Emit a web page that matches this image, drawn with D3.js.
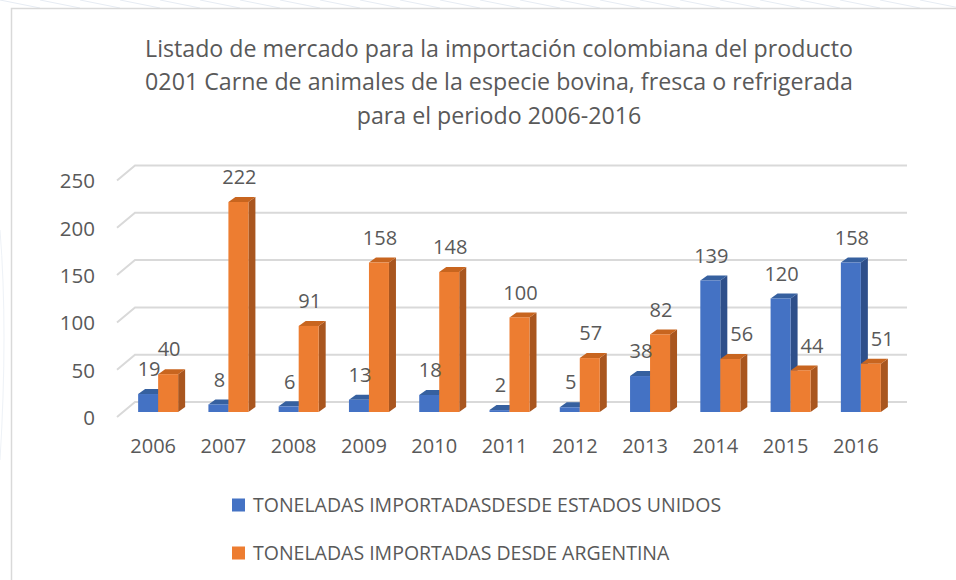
<!DOCTYPE html>
<html><head><meta charset="utf-8">
<script src="https://cdn.jsdelivr.net/npm/d3@7"></script>
<style>
html,body{margin:0;padding:0;background:#fff;}
svg{display:block;}
text{font-family:"Open Sans","Noto Sans",sans-serif;fill:#595959;}
</style></head>
<body>
<svg id="c" width="956" height="580"></svg>
<script>
const titleLines = [
  "Listado de mercado para la importación colombiana del producto",
  "0201 Carne de animales de la especie bovina, fresca o refrigerada",
  "para el periodo 2006-2016"
];
const years = ["2006","2007","2008","2009","2010","2011","2012","2013","2014","2015","2016"];
const usa = [19,8,6,13,18,2,5,38,139,120,158];
const argentina = [40,222,91,158,148,100,57,82,56,44,51];
const seriesNames = ["TONELADAS IMPORTADASDESDE ESTADOS UNIDOS","TONELADAS IMPORTADAS DESDE ARGENTINA"];
const yTicks = [0,50,100,150,200,250];

const colors = [
  {front:"#4472C4", side:"#2E4F8A", top:"#36609F"},
  {front:"#ED7D31", side:"#A9561F", top:"#C8651F"}
];
const FONT = '"Open Sans","Noto Sans",sans-serif';

const svg = d3.select("#c");

// background faint pattern outside chart frame
const bg = svg.append("g");
for (let i=0;i<40;i++){
  bg.append("line").attr("x1",-200+i*40).attr("y1",0).attr("x2",-160+i*40).attr("y2",8)
    .attr("stroke","#e6ecf3").attr("stroke-width",1);
}
bg.append("path").attr("d","M0,230 Q8,330 0,460").attr("stroke","#eef2f7").attr("fill","none");

// chart frame
svg.append("rect").attr("x",11.5).attr("y",8.5).attr("width",960).attr("height",600)
  .attr("fill","#fff").attr("stroke","#d9d9d9").attr("stroke-width",1.5);

// title
svg.append("g").selectAll("text").data(titleLines).join("text")
  .attr("x",499).attr("y",(d,i)=>56.5+i*33.5)
  .attr("text-anchor","middle").attr("font-size",23.2)
  .text(d=>d);

const y = d3.scaleLinear().domain([0,250]).range([412,175.5]);
const x = d3.scaleBand().domain(years).range([123,896]);
const xs = d3.scaleBand().domain([0,1]).range([-20,20]);
const dx = 7, dy = -5;

// gridlines
const grid = svg.append("g");
yTicks.forEach(t=>{
  const yb = y(t)-10, yf = y(t)+5;
  grid.append("path").attr("d",`M117,${yf} L135,${yb} L907,${yb}`)
    .attr("fill","none").attr("stroke","#d9d9d9").attr("stroke-width",2);
});

// y axis labels
const yAxis = d3.axisLeft(y).tickValues(yTicks).tickSize(0).tickPadding(0);
const ya = svg.append("g").attr("transform","translate(95,5)").call(yAxis);
ya.select(".domain").remove();
ya.selectAll("text").attr("font-size",20.5).attr("fill","#595959")
  .style("font-family",FONT).attr("dy","0.36em");

// x axis labels
const xAxis = d3.axisBottom(x).tickSize(0).tickPadding(0);
const xa = svg.append("g").attr("transform","translate(-5,439)").call(xAxis);
xa.select(".domain").remove();
xa.selectAll("text").attr("font-size",20).attr("fill","#595959")
  .style("font-family",FONT);

// bars
const data = years.map((yr,i)=>({yr, vals:[usa[i], argentina[i]]}));
const bars = svg.append("g");
data.forEach(d=>{
  const cx = x(d.yr)+x.bandwidth()/2;
  d.vals.forEach((v,s)=>{
    const x0 = cx + xs(s), w = xs.bandwidth();
    const y0 = y(0), y1 = y(v);
    const c = colors[s];
    const g = bars.append("g");
    g.append("path").attr("d",`M${x0+w},${y1} L${x0+w+dx},${y1+dy} L${x0+w+dx},${y0+dy} L${x0+w},${y0} Z`).attr("fill",c.side);
    g.append("path").attr("d",`M${x0},${y1} L${x0+dx},${y1+dy} L${x0+w+dx},${y1+dy} L${x0+w},${y1} Z`).attr("fill",c.top);
    g.append("rect").attr("x",x0).attr("y",y1).attr("width",w).attr("height",y0-y1).attr("fill",c.front);
  });
});

// data labels (orange labels move right when the blue bar beside them is taller)
const labels = svg.append("g");
data.forEach(d=>{
  const cx = x(d.yr)+x.bandwidth()/2;
  d.vals.forEach((v,s)=>{
    const x0 = cx + xs(s), w = xs.bandwidth();
    const shifted = s===1 && d.vals[0] > v;
    labels.append("text")
      .attr("x", shifted ? x0 + dx + 3 : x0 + w/2 + 1)
      .attr("y", y(v)-25)
      .attr("text-anchor", shifted ? "start" : "middle")
      .attr("dy","0.36em").attr("font-size",20).text(v);
  });
});

// legend
const lg = svg.append("g");
seriesNames.forEach((n,i)=>{
  const ly = 505 + i*48;
  lg.append("rect").attr("x",232).attr("y",ly-6.5).attr("width",13).attr("height",13).attr("fill",colors[i].front);
  lg.append("text").attr("x",253).attr("y",ly).attr("dy","0.36em").attr("font-size",19.5).text(n);
});
</script>
</body></html>
